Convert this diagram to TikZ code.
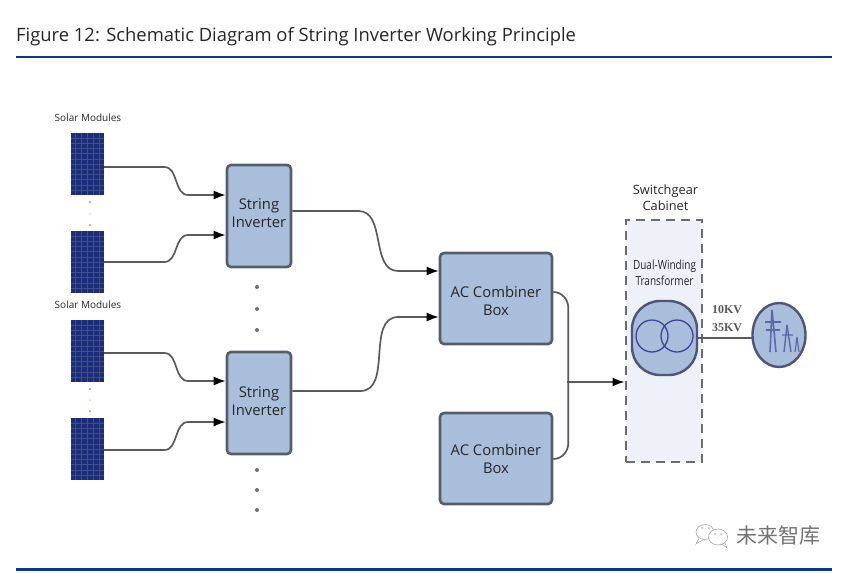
\documentclass[tikz,border=0pt]{standalone}
\usepackage{fontspec}
\setmainfont{Open Sans}
\newfontfamily\cjk{Noto Sans CJK SC}
\newfontfamily\serifbold[BoldFont=Liberation Serif Bold]{Liberation Serif}
\usetikzlibrary{arrows.meta,shapes.geometric}
\definecolor{rulecol}{HTML}{0B3A8C}
\definecolor{boxfill}{HTML}{A9BEDB}
\definecolor{boxline}{HTML}{565E69}
\definecolor{wirecol}{HTML}{5A5A5A}
\definecolor{panelcol}{HTML}{1B2C78}
\definecolor{cabfill}{HTML}{EEF1F8}
\definecolor{markcol}{HTML}{6F6F6F}
\tikzset{
  unitbox/.style={draw=boxline, line width=2.6pt, fill=boxfill, rounded corners=4pt, inner sep=0pt, align=center, font=\fontsize{14.8}{18}\selectfont, text=black!85},
  pvpanel/.style={fill=panelcol, minimum width=33pt, minimum height=62pt, inner sep=0pt,
    path picture={
      \foreach \k in {-2,...,2} {\draw[white!16!panelcol, line width=0.4pt] ([xshift=\k*6pt]path picture bounding box.north) -- ([xshift=\k*6pt]path picture bounding box.south);}
      \foreach \k in {-5,...,5} {\draw[white!16!panelcol, line width=0.4pt] ([yshift=\k*5.2pt]path picture bounding box.west) -- ([yshift=\k*5.2pt]path picture bounding box.east);}
    }},
  wire/.style={draw=wirecol, line width=1.7pt},
  arrowwire/.style={wire, -{Latex[length=12pt,width=9pt,black]}},
  modlabel/.style={font=\fontsize{10}{12}\selectfont, text=black!85},
  dotmark/.style={circle, fill=markcol, minimum size=4pt, inner sep=0pt}
}
\begin{document}
\begin{tikzpicture}[x=1pt, y=-1pt]
  \useasboundingbox (0,0) rectangle (847,573);

  \node[anchor=west, inner sep=0pt, font=\fontsize{18.4}{22}\selectfont, text=black!85] (title) at (16,37) {Figure 12: Schematic Diagram of String Inverter Working Principle};
  \coordinate (ruleAl) at (16,57); \coordinate (ruleAr) at (832,57);
  \coordinate (ruleBl) at (16,569.5); \coordinate (ruleBr) at (832,569.5);
  \draw[rulecol, line width=2.6pt] (ruleAl) -- (ruleAr);
  \draw[rulecol, line width=2.6pt] (ruleBl) -- (ruleBr);

  \foreach [count=\i] \y in {164,262,351,449} {
    \node[pvpanel] (pv\i) at (87.5,\y) {};
  }
  \node[modlabel] (modA) at (88,118) {Solar Modules};
  \node[modlabel] (modB) at (88,305) {Solar Modules};

  \node[unitbox, minimum width=64pt, minimum height=102pt] (inv1) at (259,216) {String\\Inverter\\[-12pt]\mbox{}};
  \node[unitbox, minimum width=64pt, minimum height=102pt] (inv2) at (259,403) {String\\Inverter\\[-14pt]\mbox{}};
  \node[unitbox, minimum width=112pt, minimum height=91pt] (acb1) at (496,298.5) {\raisebox{-2pt}[\height][\depth]{AC Combiner}\\\raisebox{-2pt}[\height][\depth]{Box}};
  \node[unitbox, minimum width=112pt, minimum height=91pt] (acb2) at (496,458.5) {AC Combiner\\Box};

  \foreach [count=\i] \x/\y in {257/287, 257/309, 257/330, 257/470, 257/490, 257/510} {
    \node[dotmark] (dot\i) at (\x,\y) {};
  }
  \foreach [count=\i] \y/\c in {202/markcol, 214/orange!50, 225/markcol, 389/markcol, 400/orange!50, 411/markcol} {
    \node[circle, fill=\c, opacity=0.6, minimum size=2.5pt, inner sep=0pt] (gap\i) at (90,\y) {};
  }

  \draw[arrowwire] ([yshift=-3pt]pv1.east) -- ++(60,0) to[out=0, in=180] ++(24,28) -- ([yshift=21pt]inv1.west);
  \draw[arrowwire] (pv2.east) -- ++(60,0) to[out=0, in=180] ++(24,-27) -- ([yshift=-19pt]inv1.west);
  \draw[arrowwire] ([yshift=-2pt]pv3.east) -- ++(60,0) to[out=0, in=180] ++(24,28) -- ([yshift=22pt]inv2.west);
  \draw[arrowwire] ([yshift=-1pt]pv4.east) -- ++(60,0) to[out=0, in=180] ++(24,-28) -- ([yshift=-19pt]inv2.west);
  \draw[arrowwire] ([yshift=5pt]inv1.east) -- ++(66,0) to[out=0, in=180] ++(40,60) -- ([yshift=27.5pt]acb1.west);
  \draw[arrowwire] ([yshift=12pt]inv2.east) -- ++(68,0) to[out=0, in=180] ++(38,-74) -- ([yshift=-18.5pt]acb1.west);

  \node[draw=gray!85!black, dash pattern=on 9pt off 6pt, line width=2.8pt, fill=cabfill, minimum width=76pt, minimum height=242pt, inner sep=0pt] (cabinet) at (664,341) {};
  \node[align=center, font=\fontsize{12.8}{16}\selectfont, text=black!85] (cablabel) at (665.5,198) {Switchgear\\Cabinet};
  \node[align=center, font=\fontsize{12.5}{15.5}\selectfont, text=black!85, xscale=0.8] (xflabel) at (664.5,273) {Dual-Winding\\Transformer};

  \draw[wire] ([yshift=6.5pt]acb1.east) to[out=0, in=90] ++(15,16) -- ++(0,135) to[out=270, in=0] ([yshift=-0.5pt]acb2.east);
  \coordinate (busmid) at (567,382);
  \draw[arrowwire] (busmid) -- ([yshift=-41pt]cabinet.west);

  \node[draw=boxline!90!blue, line width=2.4pt, fill=boxfill, rounded corners=28pt, minimum width=65pt, minimum height=74pt] (xf) at (664.5,338) {};
  \draw[blue!30!boxline, line width=1.3pt] (652,336) circle (16) (677,336) circle (16);
  \node[ellipse, draw=boxline!90!blue, line width=2.4pt, fill=boxfill, minimum width=53pt, minimum height=64pt, inner sep=0pt] (grid) at (779,335) {};
  \draw[boxline!70!blue, opacity=0.7, line width=1.6pt] (772,310) -- (770,352) (772,310) -- (776,352) (765,322) -- (781,322) (766,330) -- (780,330);
  \draw[boxline!70!blue, opacity=0.7, line width=1.4pt] (787,325) -- (784,352) (787,325) -- (791,352) (782,335) -- (793,335);
  \draw[boxline!70!blue, opacity=0.7, line width=1.2pt] (797,337) -- (795,352) (797,337) -- (799,352);
  \draw[wire, line width=1.2pt] (xf.east) -- ([xshift=1pt]xf.east -| grid.west);
  \node[font=\serifbold\bfseries\fontsize{12}{14}\selectfont, text=black!65] (kvA) at (727,310) {10KV};
  \node[font=\serifbold\bfseries\fontsize{12}{14}\selectfont, text=black!65] (kvB) at (727,328) {35KV};

  % watermark
  \draw[gray!70, line width=0.6pt, fill=white] (705,532) ellipse (9 and 7.5);
  \draw[gray!70, line width=0.6pt] (699,538) -- (696,544) -- (703,540);
  \draw[gray!70, line width=0.6pt, fill=white] (718,537) ellipse (9.5 and 8);
  \draw[gray!70, line width=0.6pt] (722,544) -- (727,548) -- (725,543);
  \fill[gray!70] (702,528) circle (0.8) (709,528) circle (0.8) (715,534) circle (0.8) (721,534) circle (0.8);
  \node[text=gray!90!black, font=\cjk\fontsize{21}{24}\selectfont] (mark) at (778,536) {未来智库};
\end{tikzpicture}
\end{document}
